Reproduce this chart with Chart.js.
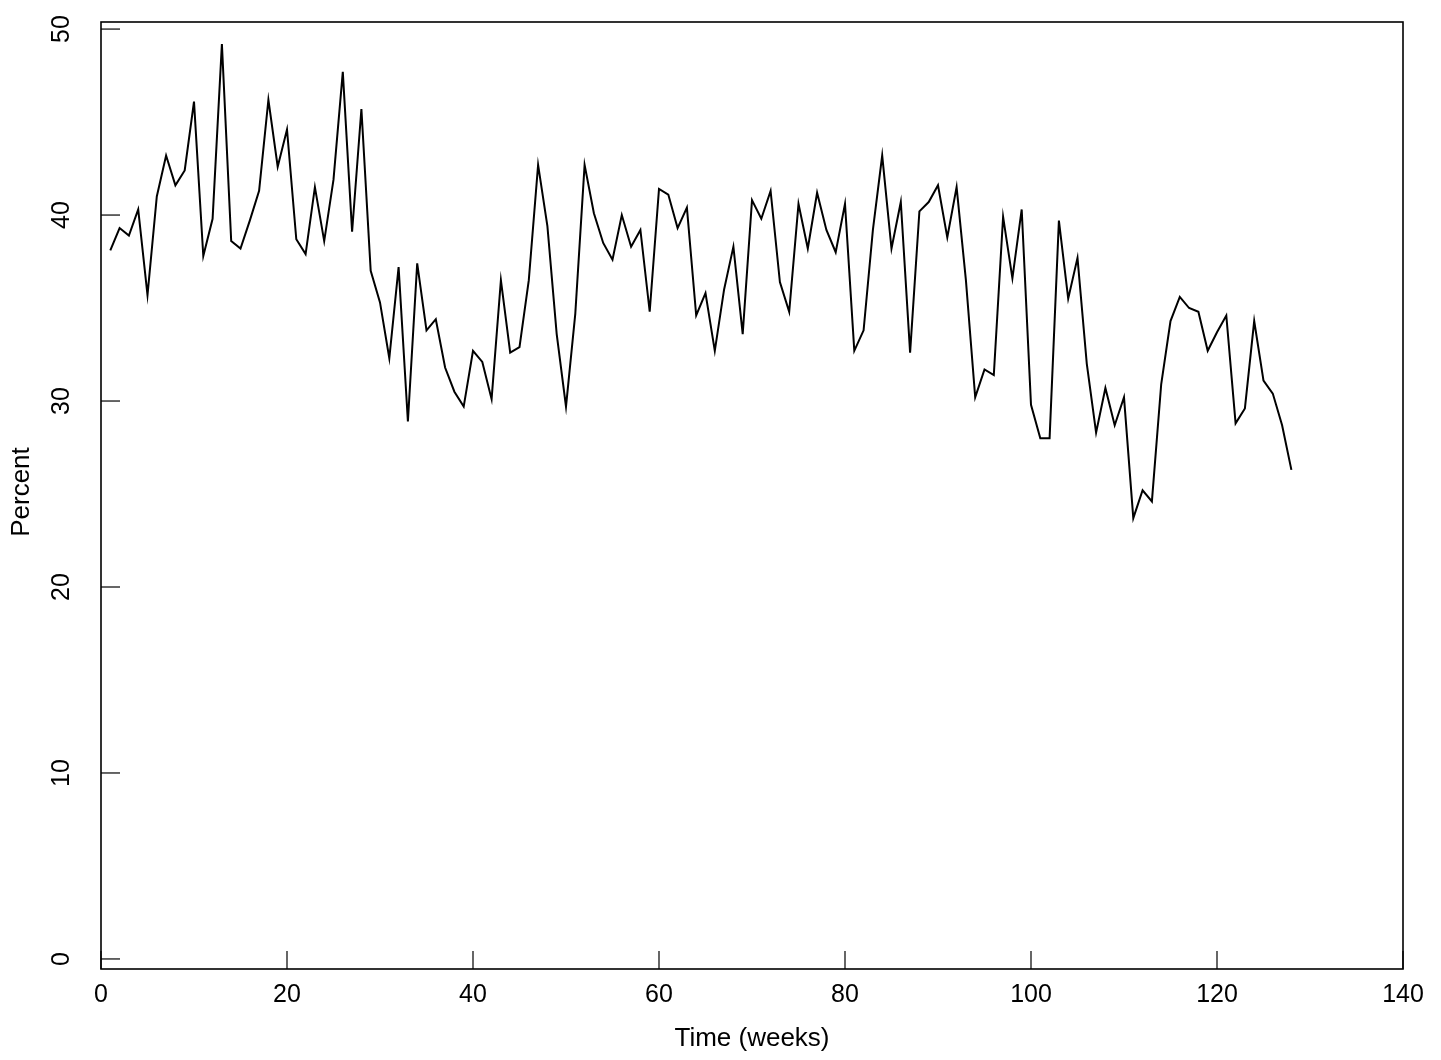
<!DOCTYPE html>
<html>
<head>
<meta charset="utf-8">
<script src="https://cdn.jsdelivr.net/npm/chart.js@4/dist/chart.umd.min.js"></script>
<style>
  html, body { margin: 0; padding: 0; background: #fff; }
  canvas { display: block; }
</style>
</head>
<body>
<canvas id="chart" width="1441" height="1060"></canvas>
<script>
// weekly percentages, weeks 1..128
const weeks = Array.from({ length: 128 }, (_, i) => i + 1);
const percent = [
    38.1, 39.3, 38.9, 40.3, 35.7, 41.0, 43.2, 41.6, 42.4, 46.1,
    37.8, 39.8, 49.2, 38.6, 38.2, 39.7, 41.3, 46.2, 42.6, 44.6,
    38.7, 37.9, 41.5, 38.6, 41.9, 47.7, 39.1, 45.7, 37.0, 35.3,
    32.3, 37.2, 28.9, 37.4, 33.8, 34.4, 31.8, 30.5, 29.7, 32.7,
    32.1, 30.1, 36.5, 32.6, 32.9, 36.5, 42.7, 39.4, 33.6, 29.7,
    34.7, 42.7, 40.1, 38.5, 37.6, 40.0, 38.3, 39.2, 34.8, 41.4,
    41.1, 39.3, 40.4, 34.6, 35.8, 32.7, 36.0, 38.3, 33.6, 40.8,
    39.8, 41.3, 36.4, 34.8, 40.6, 38.2, 41.2, 39.2, 38.0, 40.6,
    32.7, 33.8, 39.2, 43.2, 38.2, 40.7, 32.6, 40.2, 40.7, 41.6,
    38.8, 41.5, 36.5, 30.2, 31.7, 31.4, 39.9, 36.6, 40.3, 29.8,
    28.0, 28.0, 39.7, 35.5, 37.7, 32.0, 28.3, 30.7, 28.7, 30.2,
    23.7, 25.2, 24.6, 30.9, 34.3, 35.6, 35.0, 34.8, 32.7, 33.7,
    34.6, 28.8, 29.6, 34.3, 31.1, 30.4, 28.7, 26.3
];
const xTicks = [0, 20, 40, 60, 80, 100, 120, 140];
const yTicks = [0, 10, 20, 30, 40, 50];
const xTitle = 'Time (weeks)';
const yTitle = 'Percent';

const FONT = '"Liberation Sans", Arial, Helvetica, sans-serif';

// R-style frame: box, inward ticks, rotated y labels
const framePlugin = {
    id: 'frame',
    afterDraw(chart) {
        const { ctx, chartArea: a, scales: { x, y } } = chart;
        ctx.save();
        ctx.strokeStyle = '#000';
        ctx.fillStyle = '#000';
        ctx.lineWidth = 1.6;
        ctx.strokeRect(a.left, a.top, a.right - a.left, a.bottom - a.top);

        ctx.lineWidth = 1.2;
        ctx.font = '25px ' + FONT;
        ctx.textAlign = 'center';
        ctx.textBaseline = 'middle';
        xTicks.forEach(v => {
            const px = x.getPixelForValue(v);
            ctx.beginPath();
            ctx.moveTo(px, a.bottom);
            ctx.lineTo(px, a.bottom - 18);
            ctx.stroke();
            ctx.fillText(String(v), px, 995);
        });
        yTicks.forEach(v => {
            const py = y.getPixelForValue(v);
            ctx.beginPath();
            ctx.moveTo(a.left, py);
            ctx.lineTo(a.left + 19, py);
            ctx.stroke();
            ctx.save();
            ctx.translate(62, py);
            ctx.rotate(-Math.PI / 2);
            ctx.fillText(String(v), 0, 0);
            ctx.restore();
        });

        ctx.font = '26px ' + FONT;
        ctx.fillText(xTitle, (a.left + a.right) / 2, 1039);
        ctx.save();
        ctx.translate(22, 492);
        ctx.rotate(-Math.PI / 2);
        ctx.fillText(yTitle, 0, 0);
        ctx.restore();
        ctx.restore();
    }
};

new Chart(document.getElementById('chart').getContext('2d'), {
    type: 'line',
    data: {
        datasets: [{
            data: weeks.map((w, i) => ({ x: w, y: percent[i] })),
            borderColor: '#000',
            borderWidth: 2,
            pointRadius: 0,
            tension: 0,
            fill: false
        }]
    },
    options: {
        responsive: false,
        animation: false,
        layout: { padding: { left: 101, top: 22, right: 38, bottom: 91 } },
        plugins: {
            legend: { display: false },
            tooltip: { enabled: false }
        },
        scales: {
            x: { type: 'linear', min: 0, max: 140, display: false },
            y: { min: -0.54, max: 50.38, display: false }
        }
    },
    plugins: [framePlugin]
});
</script>
</body>
</html>
